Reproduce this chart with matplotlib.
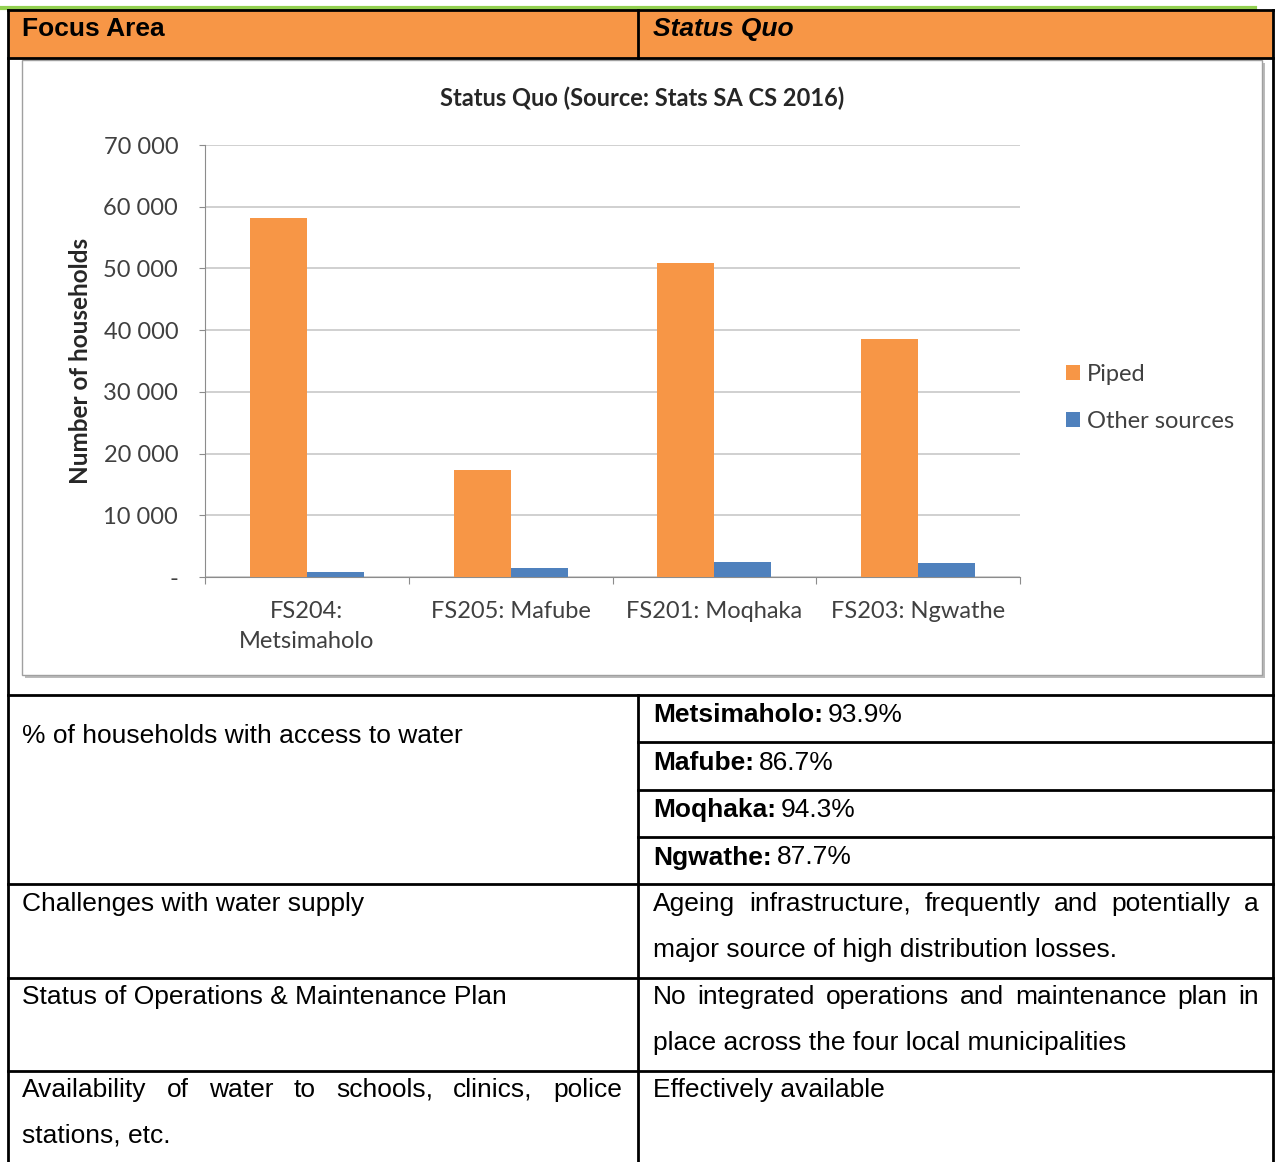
import matplotlib
matplotlib.use("Agg")
import matplotlib.pyplot as plt
import numpy as np
from matplotlib.patches import Rectangle
from matplotlib.ticker import FuncFormatter, FixedLocator

# Data
categories = ["FS204:\nMetsimaholo", "FS205: Mafube", "FS201: Moqhaka", "FS203: Ngwathe"]
piped = [58200, 17300, 50900, 38600]
other_sources = [800, 1500, 2500, 2300]
series_names = ["Piped", "Other sources"]
access_names = ["Metsimaholo:", "Mafube:", "Moqhaka:", "Ngwathe:"]
access_pct = ["93.9%", "86.7%", "94.3%", "87.7%"]

W, H = 1275, 1162
fig = plt.figure(figsize=(W / 100, H / 100), dpi=100)
bg = fig.add_axes([0, 0, 1, 1])
bg.set_xlim(0, W)
bg.set_ylim(H, 0)
bg.axis("off")

body_font = "Liberation Sans"
fs = 19
orange = "#F79646"
blue = "#4F81BD"

# table frame
L, R, MID = 8, 1273, 638
bg.plot([0, 1255], [8, 8], color="#92D050", lw=3)
bg.add_patch(Rectangle((L, 10), R - L, 48, facecolor=orange, edgecolor="none"))
rows = [10, 58, 695, 884, 978, 1071]
for y in rows:
    bg.plot([L, R], [y, y], color="black", lw=2)
for y in [742, 790, 837]:
    bg.plot([MID, R], [y, y], color="black", lw=2)
bg.plot([L, L], [10, H], color="black", lw=2)
bg.plot([R, R], [10, H], color="black", lw=2)
bg.plot([MID, MID], [10, 58], color="black", lw=2)
bg.plot([MID, MID], [695, H], color="black", lw=2)

bg.text(22, 29, "Focus Area", fontsize=fs, fontweight="bold", family=body_font, va="center")
bg.text(653, 29, "Status Quo", fontsize=fs, fontweight="bold", style="italic",
        family=body_font, va="center")

# chart box
bg.add_patch(Rectangle((25, 63), 1240, 615, facecolor="#bbbbbb", edgecolor="none"))
bg.add_patch(Rectangle((22, 60), 1240, 615, facecolor="white", edgecolor="#a0a0a0", lw=1))

renderer = fig.canvas.get_renderer()


def justify(x0, x1, y, line):
    words = line.split()
    texts = [bg.text(0, y, w, fontsize=fs, family=body_font, va="center") for w in words]
    widths = []
    for t in texts:
        bb = t.get_window_extent(renderer)
        widths.append(bb.width)
    gap = (x1 - x0 - sum(widths)) / (len(words) - 1)
    x = x0
    for t, w in zip(texts, widths):
        t.set_x(x)
        x += w + gap


def plain(x, y, s, **kw):
    bg.text(x, y, s, fontsize=fs, family=body_font, va="center", **kw)


off = 2
plain(22, 734 + off, "% of households with access to water")
for i, (n, p) in enumerate(zip(access_names, access_pct)):
    y = 713 + off + i * 47.5
    t = bg.text(653, y, n, fontsize=fs, fontweight="bold", family=body_font, va="center")
    bb = t.get_window_extent(renderer)
    bg.text(653 + bb.width + 5, y, p, fontsize=fs, family=body_font, va="center")

plain(22, 902 + off, "Challenges with water supply")
justify(653, 1259, 902 + off, "Ageing infrastructure, frequently and potentially a")
plain(653, 948 + off, "major source of high distribution losses.")
plain(22, 995 + off, "Status of Operations & Maintenance Plan")
justify(653, 1259, 995 + off, "No integrated operations and maintenance plan in")
plain(653, 1041 + off, "place across the four local municipalities")
justify(22, 622, 1088 + off, "Availability of water to schools, clinics, police")
plain(22, 1134 + off, "stations, etc.")
plain(653, 1088 + off, "Effectively available")

# chart
cf = "Lato"
ax = fig.add_axes([205 / W, 1 - 577 / H, 815 / W, 432 / H])
x = np.arange(len(categories))
bw = 0.28
ax.bar(x - bw / 2, piped, bw, color=orange, label=series_names[0], zorder=3)
ax.bar(x + bw / 2, other_sources, bw, color=blue, label=series_names[1], zorder=3)
ax.set_xlim(-0.5, len(categories) - 0.5)
ax.set_ylim(0, 70000)
ax.set_yticks(np.arange(0, 70001, 10000))
ax.yaxis.set_major_formatter(FuncFormatter(lambda v, p: "-" if v == 0 else f"{int(v):,}".replace(",", " ")))
ax.grid(axis="y", color="#c8c8c8", lw=1.2, zorder=0)
ax.xaxis.set_major_locator(FixedLocator(np.arange(-0.5, len(categories), 1)))
ax.xaxis.set_major_formatter(FuncFormatter(lambda v, p: ""))
ax.set_xticks(x, minor=True)
ax.set_xticklabels(categories, minor=True, fontsize=17, family=cf, color="#404040")
for lbl in ax.get_xticklabels(minor=True):
    lbl.set_linespacing(1.55)
ax.tick_params(axis="x", which="minor", length=0, pad=17)
ax.tick_params(axis="x", which="major", length=5, color="#8c8c8c")
ax.tick_params(axis="y", length=4.3, color="#8c8c8c", labelsize=17, labelcolor="#404040", pad=15)
for lbl in ax.get_yticklabels():
    lbl.set_family(cf)
for s in ["top", "right"]:
    ax.spines[s].set_visible(False)
ax.spines["left"].set_color("#8c8c8c")
ax.spines["bottom"].set_color("#8c8c8c")
ax.set_ylabel("Number of households", fontsize=17.5, fontweight="bold", family=cf, color="#262626", labelpad=8)
ax.set_title("Status Quo (Source: Stats SA CS 2016)", fontsize=17, fontweight="bold", family=cf,
             color="#262626", x=437 / 815, pad=28)
ax.legend(loc="center left", bbox_to_anchor=(1.03, 0.415), frameon=False, handlelength=0.6,
          handleheight=0.6, handletextpad=0.3, labelspacing=1.1, prop={"family": cf, "size": 17},
          labelcolor="#404040")

fig.savefig("out.png", dpi=100)
